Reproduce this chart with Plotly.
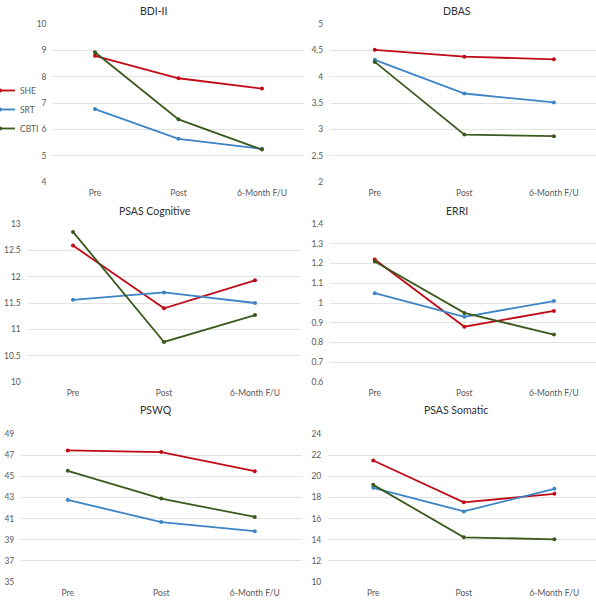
import plotly.graph_objects as go

W, H = 596, 600

categories = ["Pre", "Post", "6-Month F/U"]
groups = ["SHE", "SRT", "CBTI"]
colors = {"SHE": "#C00A16", "SRT": "#3D84C6", "CBTI": "#3A5A1E"}

# ---- data ----
bdi_she = [8.79, 7.94, 7.55]
bdi_srt = [6.77, 5.64, 5.26]
bdi_cbti = [8.93, 6.38, 5.23]

dbas_she = [4.51, 4.38, 4.33]
dbas_srt = [4.32, 3.68, 3.51]
dbas_cbti = [4.28, 2.90, 2.87]

psasc_she = [12.59, 11.40, 11.93]
psasc_srt = [11.56, 11.70, 11.50]
psasc_cbti = [12.85, 10.76, 11.27]

erri_she = [1.22, 0.88, 0.96]
erri_srt = [1.05, 0.93, 1.01]
erri_cbti = [1.21, 0.95, 0.84]

pswq_she = [47.45, 47.29, 45.48]
pswq_srt = [42.76, 40.67, 39.81]
pswq_cbti = [45.52, 42.89, 41.15]

psass_she = [21.49, 17.54, 18.34]
psass_srt = [18.91, 16.68, 18.81]
psass_cbti = [19.19, 14.23, 14.04]

titles = ["BDI-II", "DBAS", "PSAS Cognitive", "ERRI", "PSWQ", "PSAS Somatic"]
series = [
    (bdi_she, bdi_srt, bdi_cbti),
    (dbas_she, dbas_srt, dbas_cbti),
    (psasc_she, psasc_srt, psasc_cbti),
    (erri_she, erri_srt, erri_cbti),
    (pswq_she, pswq_srt, pswq_cbti),
    (psass_she, psass_srt, psass_cbti),
]
y_ranges = [(4, 10), (2, 5), (10, 13), (0.6, 1.4), (35, 49), (10, 24)]
y_dticks = [1, 0.5, 0.5, 0.1, 2, 2]

# ---- layout (pixel boxes of each plot area: left, right, top, bottom) ----
boxes = [
    (53.25, 303.75, 24, 182),
    (330, 596, 24, 182),
    (27.5, 300.5, 224, 382),
    (330, 596, 224, 382),
    (21, 301.5, 434, 582),
    (328, 596, 434, 582),
]
x_ranges = [
    (-0.5, 2.5),
    (-0.5, 2.47),
    (-0.5, 2.5),
    (-0.5, 2.47),
    (-0.5, 2.5),
    (-0.5, 2.46),
]
title_pos = [(154, 11), (457, 11), (155, 211), (457, 211), (156, 410), (456, 410)]

FONT = "Lato, Arial"
TICK_COLOR = "#595959"
GRID = "#E3E3E3"

fig = go.Figure()
layout = dict(
    width=W, height=H,
    margin=dict(l=0, r=0, t=0, b=0, autoexpand=False),
    paper_bgcolor="white", plot_bgcolor="white",
    font=dict(family=FONT, size=8.5, color=TICK_COLOR),
    annotations=[],
)

for i, (title, ser, yr, dt, box, xr, tp) in enumerate(
        zip(titles, series, y_ranges, y_dticks, boxes, x_ranges, title_pos)):
    n = i + 1
    xa = "x" if n == 1 else f"x{n}"
    ya = "y" if n == 1 else f"y{n}"
    for g, vals in zip(groups, ser):
        fig.add_trace(go.Scatter(
            x=categories, y=vals, name=g, xaxis=xa, yaxis=ya,
            mode="lines+markers",
            line=dict(color=colors[g], width=1.8),
            marker=dict(color=colors[g], size=4),
            showlegend=(n == 1), legendgroup=g,
        ))
    l, r, t, b = box
    layout["xaxis" if n == 1 else f"xaxis{n}"] = dict(
        domain=[l / W, r / W], anchor=ya, type="category",
        range=list(xr), showgrid=False, zeroline=False, showline=False,
        ticks="", ticklabelstandoff=4,
        tickfont=dict(size=8.5, color=TICK_COLOR, family=FONT),
        fixedrange=True, automargin=False,
    )
    layout["yaxis" if n == 1 else f"yaxis{n}"] = dict(
        domain=[1 - b / H, 1 - t / H], anchor=xa,
        range=list(yr), dtick=dt, tick0=yr[0],
        showgrid=True, gridcolor=GRID, gridwidth=1,
        zeroline=False, showline=False,
        ticks="outside", ticklen=4, tickcolor="rgba(0,0,0,0)",
        tickfont=dict(size=8.5, color=TICK_COLOR, family=FONT),
        fixedrange=True, automargin=False,
    )
    layout["annotations"].append(dict(
        text=title, x=tp[0] / W, y=1 - tp[1] / H, xref="paper", yref="paper",
        xanchor="center", yanchor="middle", showarrow=False,
        font=dict(size=10.5, color="#303030", family=FONT),
    ))

layout["legend"] = dict(
    x=-20 / W, y=1 - 76 / H, xanchor="left", yanchor="top",
    bgcolor="rgba(0,0,0,0)", borderwidth=0,
    font=dict(size=8.5, color=TICK_COLOR, family=FONT),
    itemwidth=30, tracegroupgap=0,
)

fig.update_layout(**layout)
fig.write_html(
    "out.html",
    config={"displayModeBar": False},
    post_script="document.body.style.margin='0px';document.body.style.overflow='hidden';",
)
